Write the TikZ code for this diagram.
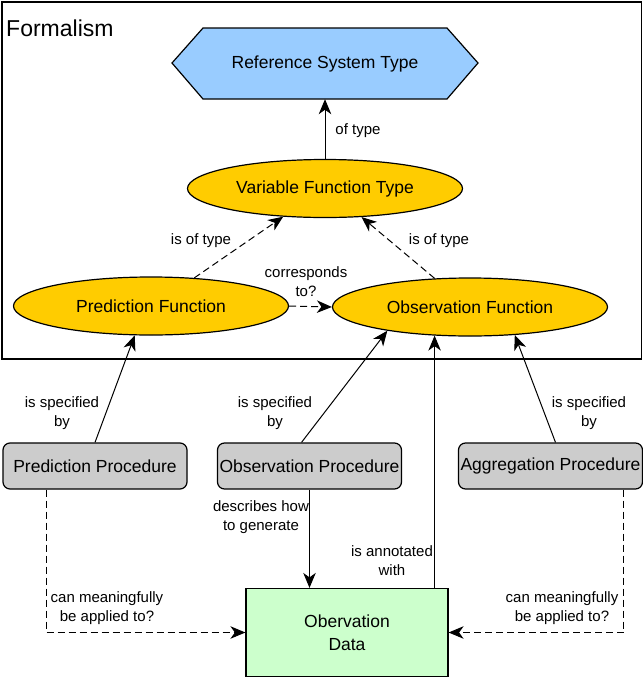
\documentclass[tikz,border=0pt]{standalone}
\usepackage{fontspec}
\setmainfont{Liberation Sans}
\usetikzlibrary{arrows.meta,shapes.geometric,calc}
\definecolor{hexblue}{HTML}{99CCFF}
\definecolor{fnyellow}{HTML}{FFCC00}
\definecolor{procgray}{HTML}{CCCCCC}
\definecolor{datagreen}{HTML}{CCFFCC}
\begin{document}
\begin{tikzpicture}[x=1pt,y=-1pt,
  every node/.style={font=\fontsize{17.5}{21}\selectfont},
  lab/.style={font=\fontsize{15}{19}\selectfont, align=center, inner sep=0pt},
  fn/.style={ellipse, draw, fill=fnyellow, line width=1.2pt, minimum width=275pt, minimum height=58pt, inner sep=0pt},
  proc/.style={rectangle, rounded corners=7pt, draw, fill=procgray, line width=1.2pt, minimum width=184pt, minimum height=46pt, inner sep=0pt},
  arr/.style={-{Stealth[length=15pt,width=12.5pt,inset=4.5pt]}, line width=1pt},
  darr/.style={arr, dash pattern=on 7pt off 4pt},
]
\useasboundingbox (0,0) rectangle (643,678);
% container
\draw[line width=1.2pt] (2,2) rectangle (641.5,359);
\node[anchor=west, inner sep=0pt, font=\fontsize{23}{27}\selectfont] (formal) at (6,28) {Formalism};
% hexagon
\filldraw[fill=hexblue, line width=1.2pt] (172,63) -- (203,28) -- (447,28) -- (478,63) -- (447,99) -- (203,99) -- cycle;
\node[minimum width=244pt, minimum height=71pt, inner sep=0pt] (rst) at (325,63.5) {Reference System Type};
% functions
\node[fn] (vft) at (325,188.5) {Variable Function Type};
\node[fn] (pf) at (151,306) {Prediction Function};
\node[fn] (of) at (470,307) {Observation Function};
% procedures
\node[proc] (pp) at (95,466) {Prediction Procedure};
\node[proc] (op) at (309.5,466) {Observation Procedure};
\node[proc] (ap) at (550.5,466) {Aggregation Procedure};
% data
\node[draw, fill=datagreen, line width=1.2pt, minimum width=202pt, minimum height=88pt, inner sep=0pt, align=center, font=\fontsize{17.5}{23}\selectfont] (od) at (347,632.5) {Obervation\\Data};
% connectors
\draw[arr] (vft) -- (rst);
\draw[darr] (pf.33) -- (vft.214);
\draw[darr] (of.141) -- (vft.-38);
\draw[darr] (pf.east) -- (of.west);
\draw[arr] (pp.north) -- (pf.241);
\draw[arr] ($(op.north)+(-8,0)$) -- (of.196);
\draw[arr] ($(ap.north)+(5,0)$) -- (of.-32);
\draw[arr] (op.south) -- (op.south |- od.north);
\coordinate (odtop) at ($(od.north east)+(-14,0)$);
\draw[arr] (odtop) -- ($(odtop |- of.south)+(0,-1)$);
\coordinate (ppb) at ($(pp.south west)+(44,0)$);
\draw[darr] (ppb) |- (od.west);
\coordinate (apb) at ($(ap.south east)+(-19.5,0)$);
\draw[darr] (apb) |- (od.east);
% labels
\node[lab] (l1) at (358,131) {of type};
\node[lab] (l2) at (201,241) {is of type};
\node[lab] (l3) at (439,241) {is of type};
\node[lab] (l4) at (306,282) {corresponds\\to?};
\node[lab] (l5) at (62,413) {is specified\\by};
\node[lab] (l6) at (275,413) {is specified\\by};
\node[lab] (l7) at (589,413) {is specified\\by};
\node[lab] (l8) at (261,517) {describes how\\to generate};
\node[lab] (l9) at (392,561) {is annotated\\with};
\node[lab] (l10) at (107,608) {can meaningfully\\be applied to?};
\node[lab] (l11) at (562,608) {can meaningfully\\be applied to?};
\end{tikzpicture}
\end{document}
